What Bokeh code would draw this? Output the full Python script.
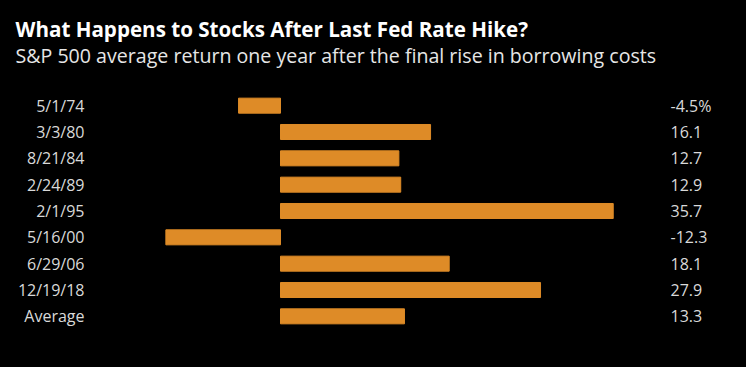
from bokeh.plotting import figure
from bokeh.layouts import column
from bokeh.models import Range1d, FactorRange, ColumnDataSource
from bokeh.core.properties import value
from bokeh.embed import file_html
from bokeh.resources import INLINE

dates = ["5/1/74", "3/3/80", "8/21/84", "2/24/89", "2/1/95", "5/16/00", "6/29/06", "12/19/18", "Average"]
returns = [-4.5, 16.1, 12.7, 12.9, 35.7, -12.3, 18.1, 27.9, 13.3]
value_labels = ["-4.5%", "16.1", "12.7", "12.9", "35.7", "-12.3", "18.1", "27.9", "13.3"]
title_text = "What Happens to Stocks After Last Fed Rate Hike?"
subtitle_text = "S&P 500 average return one year after the final rise in borrowing costs"

FONT = "Open Sans"
BAR = "#DE8B27"
TXT = "#D9D9D9"

W, H = 746, 367
HEAD = 92
BOTTOM = 38
SCALE = 9.32  # px per unit
ZERO_PX = 280
x0 = -ZERO_PX / SCALE
x1 = x0 + W / SCALE


def blank(fig):
    fig.outline_line_color = None
    fig.xaxis.visible = False
    fig.yaxis.visible = False
    fig.xgrid.visible = False
    fig.ygrid.visible = False
    fig.styles = {"background-color": "black"}


# header with title and subtitle (pixel-like coordinates, y down)
head = figure(width=W, height=HEAD, output_backend="svg", toolbar_location=None,
              x_range=Range1d(0, W), y_range=Range1d(HEAD, 0),
              background_fill_color="black", border_fill_color="black",
              min_border_left=0, min_border_right=0, min_border_top=0, min_border_bottom=0)
blank(head)
head.text(x=[15], y=[28], text=[title_text], text_font=value(FONT), text_font_size="20.6px",
          text_font_style="bold", text_color="white", text_baseline="alphabetic", text_align="left")
head.text(x=[15], y=[54.5], text=[subtitle_text], text_font=value(FONT), text_font_size="19.6px",
          text_color="#E6E6E6", text_baseline="alphabetic", text_align="left")

src = ColumnDataSource(dict(date=dates, ret=returns, lab=value_labels))

p = figure(width=W, height=H - HEAD, output_backend="svg", toolbar_location=None,
           x_range=Range1d(x0, x1), y_range=FactorRange(factors=list(reversed(dates)), range_padding=0),
           background_fill_color="black", border_fill_color="black",
           min_border_left=0, min_border_right=0, min_border_bottom=BOTTOM, min_border_top=0)
blank(p)

p.hbar(y="date", left=0, right="ret", height=0.57, source=src, color=BAR)

LABEL_X = x0 + 84 / SCALE
VALUE_X = x0 + 670 / SCALE
p.text(x=LABEL_X, y="date", text="date", source=src, text_align="right", text_baseline="middle",
       text_color=TXT, text_font=value(FONT), text_font_size="16px")
p.text(x=VALUE_X, y="date", text="lab", source=src, text_align="left", text_baseline="middle",
       text_color=TXT, text_font=value(FONT), text_font_size="16px")

layout = column(head, p, spacing=0, styles={"background-color": "black"})

html = file_html(layout, INLINE)
html = html.replace("<body>", '<body style="background:black;margin:0">', 1)
open("out.html", "w").write(html)
